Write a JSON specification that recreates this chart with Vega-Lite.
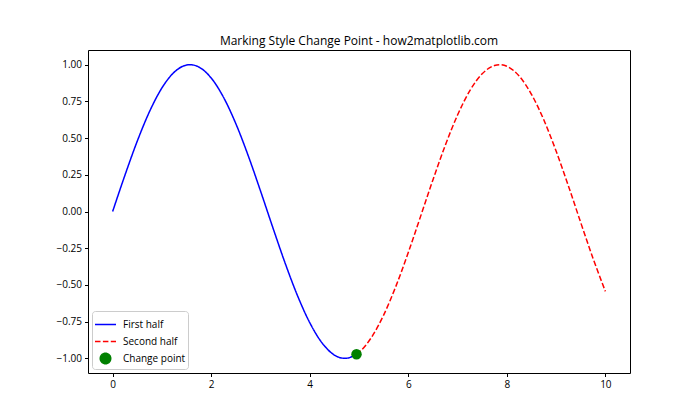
{
  "$schema": "https://vega.github.io/schema/vega-lite/v6.json",
  "width": 542,
  "height": 323,
  "autosize": {"type": "none"},
  "padding": {"left": 88, "top": 50, "right": 70, "bottom": 47},
  "background": "white",
  "title": {"text": "Marking Style Change Point - how2matplotlib.com", "fontSize": 12, "fontWeight": "normal", "font": "Open Sans", "color": "black", "offset": 2},
  "config": {
    "view": {"stroke": "black", "strokeWidth": 1},
    "axis": {"grid": false, "domain": false, "tickColor": "black", "tickSize": 3.5, "labelColor": "black", "labelFont": "Open Sans", "labelFontSize": 10, "labelPadding": 3, "title": null},
    "legend": {"labelFont": "Open Sans", "labelFontSize": 10, "labelColor": "black"}
  },
  "datasets": {
    "curve": [
      {"x": 0, "y": 0, "series": "First half"},
      {"x": 0.25, "y": 0.2474, "series": "First half"},
      {"x": 0.5, "y": 0.4794, "series": "First half"},
      {"x": 0.75, "y": 0.6816, "series": "First half"},
      {"x": 1.0, "y": 0.8415, "series": "First half"},
      {"x": 1.25, "y": 0.949, "series": "First half"},
      {"x": 1.5, "y": 0.9975, "series": "First half"},
      {"x": 1.5708, "y": 1.0, "series": "First half"},
      {"x": 1.75, "y": 0.984, "series": "First half"},
      {"x": 2.0, "y": 0.9093, "series": "First half"},
      {"x": 2.25, "y": 0.7781, "series": "First half"},
      {"x": 2.5, "y": 0.5985, "series": "First half"},
      {"x": 2.75, "y": 0.3817, "series": "First half"},
      {"x": 3.0, "y": 0.1411, "series": "First half"},
      {"x": 3.25, "y": -0.1082, "series": "First half"},
      {"x": 3.5, "y": -0.3508, "series": "First half"},
      {"x": 3.75, "y": -0.5716, "series": "First half"},
      {"x": 4.0, "y": -0.7568, "series": "First half"},
      {"x": 4.25, "y": -0.895, "series": "First half"},
      {"x": 4.5, "y": -0.9775, "series": "First half"},
      {"x": 4.7124, "y": -1.0, "series": "First half"},
      {"x": 4.75, "y": -0.9993, "series": "First half"},
      {"x": 4.9495, "y": -0.9719, "series": "First half"},
      {"x": 4.9495, "y": -0.9719, "series": "Second half"},
      {"x": 5.0, "y": -0.9589, "series": "Second half"},
      {"x": 5.25, "y": -0.8589, "series": "Second half"},
      {"x": 5.5, "y": -0.7055, "series": "Second half"},
      {"x": 5.75, "y": -0.5083, "series": "Second half"},
      {"x": 6.0, "y": -0.2794, "series": "Second half"},
      {"x": 6.25, "y": -0.0332, "series": "Second half"},
      {"x": 6.5, "y": 0.2151, "series": "Second half"},
      {"x": 6.75, "y": 0.45, "series": "Second half"},
      {"x": 7.0, "y": 0.657, "series": "Second half"},
      {"x": 7.25, "y": 0.8231, "series": "Second half"},
      {"x": 7.5, "y": 0.938, "series": "Second half"},
      {"x": 7.75, "y": 0.9946, "series": "Second half"},
      {"x": 7.854, "y": 1.0, "series": "Second half"},
      {"x": 8.0, "y": 0.9894, "series": "Second half"},
      {"x": 8.25, "y": 0.9228, "series": "Second half"},
      {"x": 8.5, "y": 0.7985, "series": "Second half"},
      {"x": 8.75, "y": 0.6247, "series": "Second half"},
      {"x": 9.0, "y": 0.4121, "series": "Second half"},
      {"x": 9.25, "y": 0.1743, "series": "Second half"},
      {"x": 9.5, "y": -0.0752, "series": "Second half"},
      {"x": 9.75, "y": -0.3195, "series": "Second half"},
      {"x": 10.0, "y": -0.544, "series": "Second half"}
    ],
    "change": [
      {"x": 4.9495, "y": -0.9719, "series": "Change point"}
    ]
  },
  "encoding": {
    "x": {"field": "x", "type": "quantitative", "scale": {"domain": [-0.5, 10.5], "nice": false, "zero": false}, "axis": {"values": [0, 2, 4, 6, 8, 10], "format": "d"}},
    "y": {"field": "y", "type": "quantitative", "scale": {"domain": [-1.1, 1.1], "nice": false, "zero": false}, "axis": {"values": [-1, -0.75, -0.5, -0.25, 0, 0.25, 0.5, 0.75, 1], "format": ".2f"}}
  },
  "layer": [
    {
      "data": {"name": "curve"},
      "mark": {"type": "line", "strokeWidth": 1.5, "interpolate": "monotone"},
      "encoding": {
        "color": {"field": "series", "type": "nominal", "scale": {"domain": ["First half", "Second half", "Change point"], "range": ["#0000ff", "#ff0000", "#008000"]},
          "legend": {"title": null, "orient": "bottom-left", "offset": 4, "padding": 2, "rowPadding": 0, "strokeColor": "#cccccc", "fillColor": "white", "cornerRadius": 3, "symbolType": "stroke", "symbolSize": 225, "symbolStrokeWidth": 1.5, "labelOffset": 6,
            "encode": {"symbols": {"update": {
              "shape": {"signal": "datum.label === 'Change point' ? 'circle' : 'stroke'"},
              "size": {"signal": "datum.label === 'Change point' ? 110 : 441"},
              "fill": {"signal": "datum.label === 'Change point' ? '#008000' : 'transparent'"}
            }}}}},
        "strokeDash": {"field": "series", "type": "nominal", "scale": {"domain": ["First half", "Second half", "Change point"], "range": [[1, 0], [5.5, 2.4], [1, 0]]}, "legend": {"title": null}}
      }
    },
    {
      "data": {"name": "change"},
      "mark": {"type": "point", "filled": true, "size": 110, "opacity": 1, "color": "#008000", "shape": "circle"}
    }
  ]
}
